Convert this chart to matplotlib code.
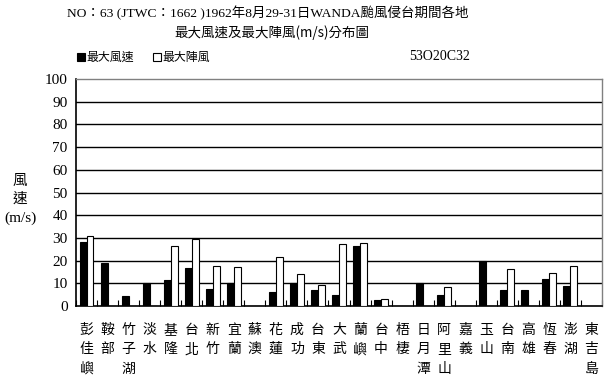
import matplotlib
matplotlib.use("Agg")
import matplotlib.pyplot as plt
from matplotlib.patches import Rectangle
import numpy as np

stations = ["彭\n佳\n嶼", "鞍\n部", "竹\n子\n湖", "淡\n水", "基\n隆", "台\n北", "新\n竹", "宜\n蘭",
            "蘇\n澳", "花\n蓮", "成\n功", "台\n東", "大\n武", "蘭\n嶼", "台\n中", "梧\n棲",
            "日\n月\n潭", "阿\n里\n山", "嘉\n義", "玉\n山", "台\n南", "高\n雄", "恆\n春", "澎\n湖", "東\n吉\n島"]
max_wind = [28.2, 19.1, 4.4, 10.0, 11.5, 16.8, 7.5, 10.0, 0, 6.3, 10.0, 7.1, 4.7, 26.5, 2.6, 0,
            10.0, 4.7, 0, 19.7, 7.1, 7.1, 11.9, 8.8, 0]
max_gust = [30.9, 0, 0, 0, 26.5, 29.4, 17.6, 17.1, 0, 21.6, 14.1, 9.3, 27.4, 27.8, 2.9, 0,
            0, 8.2, 0, 0, 16.2, 0, 14.4, 17.6, 0]
yticks = list(range(0, 101, 10))

CJK = ["Noto Sans CJK TC", "DejaVu Sans"]
SERIF = ["Liberation Serif", "Noto Sans CJK TC"]

W, H = 615, 381
fig = plt.figure(figsize=(W / 100, H / 100), dpi=100)
ax = fig.add_axes([76 / W, 1 - 306 / H, (602 - 76) / W, (306 - 79) / H])

n = len(stations)
x = np.arange(n)
bw = 0.33
ax.bar(x - bw / 2, max_wind, width=bw, color="black", edgecolor="black", linewidth=0.8, zorder=3)
ax.bar(x + bw / 2, max_gust, width=bw, color="white", edgecolor="black", linewidth=0.8, zorder=3)

ax.set_xlim(-0.5, n - 0.5)
ax.set_ylim(0, 100)
ax.set_yticks(yticks)
ax.set_yticklabels([str(v) for v in yticks], family=SERIF, fontsize=11)
for v in yticks[1:-1]:
    ax.axhline(v, color="black", linewidth=1.0, zorder=1)
ax.tick_params(axis="y", length=0, pad=6)
ax.set_xticks(x)
ax.set_xticklabels(stations, family=CJK, fontsize=10, linespacing=1.5, va="top")
ax.tick_params(axis="x", length=0, pad=12)
ax.set_xticks(np.arange(n + 1) - 0.5, minor=True)
ax.tick_params(axis="x", which="minor", direction="in", length=4, width=0.8, color="black")

for s in ["left", "bottom"]:
    ax.spines[s].set_color("black")
    ax.spines[s].set_linewidth(1.2)
for s in ["top", "right"]:
    ax.spines[s].set_color("#808080")
    ax.spines[s].set_linewidth(1.0)

fig.text(20 / W, 1 - 190 / H, "風\n速", family=CJK, fontsize=10.5, ha="center", va="center",
         linespacing=1.35)
fig.text(20 / W, 1 - 218 / H, "(m/s)", family=SERIF, fontsize=11, ha="center", va="center")

fig.text(268 / W, 1 - 13 / H, "NO：63 (JTWC：1662 )1962年8月29-31日WANDA颱風侵台期間各地",
         family=SERIF, fontsize=9.7, ha="center", va="center")
fig.text(272 / W, 1 - 33 / H, "最大風速及最大陣風(m/s)分布圖",
         family=CJK, fontsize=9.7, ha="center", va="center")

# legend
fig.patches.append(Rectangle((77 / W, 1 - 61 / H), 8 / W, 8 / H, transform=fig.transFigure,
                             facecolor="black", edgecolor="black", linewidth=0.8))
fig.text(86 / W, 1 - 57 / H, "最大風速", family=CJK, fontsize=8.6, ha="left", va="center")
fig.patches.append(Rectangle((153 / W, 1 - 61 / H), 8 / W, 8 / H, transform=fig.transFigure,
                             facecolor="white", edgecolor="black", linewidth=0.8))
fig.text(162 / W, 1 - 57 / H, "最大陣風", family=CJK, fontsize=8.6, ha="left", va="center")
fig.text(470 / W, 1 - 57 / H, "53O20C32", family=SERIF, fontsize=10, ha="right", va="center")

fig.savefig("out.png", dpi=100)
